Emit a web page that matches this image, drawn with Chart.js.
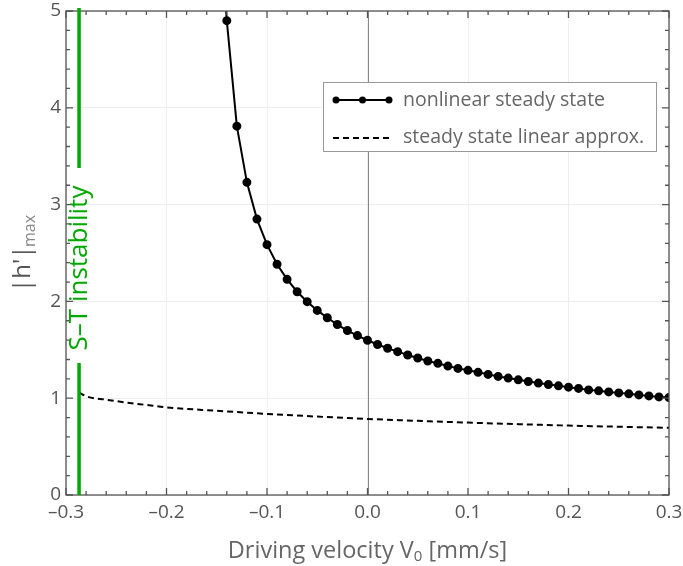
<!DOCTYPE html>
<html>
<head>
<meta charset="utf-8">
<script src="https://cdn.jsdelivr.net/npm/chart.js@4.4.1/dist/chart.umd.min.js"></script>
<style>
  html, body { margin: 0; padding: 0; background: #fff; }
  #wrap { width: 683px; height: 566px; }
</style>
</head>
<body>
<div id="wrap"><canvas id="c" width="683" height="566"></canvas></div>
<script>
// nonlinear steady state (first point lies above the plot range)
const nonlinV = [-0.15, -0.14, -0.13, -0.12, -0.11, -0.10, -0.09, -0.08, -0.07, -0.06, -0.05,
  -0.04, -0.03, -0.02, -0.01, 0.00, 0.01, 0.02, 0.03, 0.04, 0.05, 0.06, 0.07, 0.08, 0.09,
  0.10, 0.11, 0.12, 0.13, 0.14, 0.15, 0.16, 0.17, 0.18, 0.19, 0.20, 0.21, 0.22, 0.23, 0.24,
  0.25, 0.26, 0.27, 0.28, 0.29, 0.30];
const nonlinH = [6.4, 4.90, 3.81, 3.23, 2.85, 2.586, 2.384, 2.228, 2.10, 1.997, 1.907,
  1.831, 1.761, 1.699, 1.647, 1.599, 1.555, 1.516, 1.481, 1.446, 1.415, 1.384, 1.360, 1.332, 1.308,
  1.288, 1.267, 1.246, 1.225, 1.208, 1.190, 1.173, 1.156, 1.142, 1.128, 1.114, 1.101, 1.086, 1.076, 1.065,
  1.055, 1.045, 1.034, 1.024, 1.013, 1.007];

// linear approximation
const linV = [-0.287, -0.28, -0.26, -0.24, -0.22, -0.20, -0.15, -0.10, -0.05, 0.00, 0.05, 0.10, 0.15, 0.20, 0.25, 0.30];
const linH = [1.06, 1.02, 0.985, 0.955, 0.93, 0.905, 0.87, 0.838, 0.81, 0.786, 0.766, 0.748, 0.732, 0.717, 0.705, 0.694];

// S-T instability threshold
const stV = -0.287;

const xTicks = [-0.3, -0.2, -0.1, 0.0, 0.1, 0.2, 0.3];
const yTicks = [0, 1, 2, 3, 4, 5];

const seriesNames = ["nonlinear steady state", "steady state linear approx."];

const FONT = "'Open Sans', 'Noto Sans', sans-serif";
const GREEN = "#00a800";

function fmtX(v) {
  const s = (Math.round(v * 10) / 10).toFixed(1);
  return v < -1e-9 ? "\u2013" + s.slice(1) : (s === "-0.0" ? "0.0" : s);
}

// frame, ticks, gridline at 0, threshold line, legend, titles
const decor = {
  id: "decor",
  beforeDatasetsDraw(chart) {
    const { ctx, chartArea: a, scales: { x } } = chart;
    ctx.save();
    ctx.strokeStyle = "#888";
    ctx.lineWidth = 1;
    const x0 = Math.round(x.getPixelForValue(0)) + 0.5;
    ctx.beginPath(); ctx.moveTo(x0, a.top); ctx.lineTo(x0, a.bottom); ctx.stroke();
    ctx.restore();
  },
  afterDatasetsDraw(chart) {
    const { ctx, chartArea: a, scales: { x, y } } = chart;
    ctx.save();
    // frame
    ctx.strokeStyle = "#555";
    ctx.lineWidth = 1.3;
    ctx.strokeRect(a.left, a.top, a.right - a.left, a.bottom - a.top);
    // x ticks (bottom and top)
    for (let i = 0; i <= 30; i++) {
      const px = x.getPixelForValue(-0.3 + i * 0.02);
      const len = i % 5 === 0 ? 7 : 4;
      ctx.beginPath();
      ctx.moveTo(px, a.bottom); ctx.lineTo(px, a.bottom - len);
      ctx.moveTo(px, a.top); ctx.lineTo(px, a.top + len);
      ctx.stroke();
    }
    // y ticks (left and right)
    for (let i = 0; i <= 25; i++) {
      const py = y.getPixelForValue(i * 0.2);
      const len = i % 5 === 0 ? 7 : 4;
      ctx.beginPath();
      ctx.moveTo(a.left, py); ctx.lineTo(a.left + len, py);
      ctx.moveTo(a.right, py); ctx.lineTo(a.right - len, py);
      ctx.stroke();
    }
    // S-T instability line with label
    const gx = x.getPixelForValue(stV);
    ctx.strokeStyle = GREEN;
    ctx.lineWidth = 3.5;
    ctx.beginPath();
    ctx.moveTo(gx, a.top - 3); ctx.lineTo(gx, 168);
    ctx.moveTo(gx, 363); ctx.lineTo(gx, a.bottom);
    ctx.stroke();
    ctx.save();
    ctx.translate(gx + 1, 268);
    ctx.rotate(-Math.PI / 2);
    ctx.fillStyle = GREEN;
    ctx.font = "26px " + FONT;
    ctx.textAlign = "center";
    ctx.textBaseline = "middle";
    ctx.fillText("S\u2013T instability", 0, 0);
    ctx.restore();

    // legend
    const lx = 323, ly = 82, lw = 333, lh = 69;
    ctx.fillStyle = "#fff";
    ctx.fillRect(lx, ly, lw, lh);
    ctx.strokeStyle = "#999";
    ctx.lineWidth = 1;
    ctx.strokeRect(lx + 0.5, ly + 0.5, lw, lh);
    ctx.strokeStyle = "#000";
    ctx.lineWidth = 2;
    ctx.beginPath(); ctx.moveTo(336, 100); ctx.lineTo(389, 100); ctx.stroke();
    ctx.fillStyle = "#000";
    [336, 362.5, 389].forEach(px => {
      ctx.beginPath(); ctx.arc(px, 100, 3.5, 0, Math.PI * 2); ctx.fill();
    });
    ctx.setLineDash([6, 4]);
    ctx.beginPath(); ctx.moveTo(333, 138); ctx.lineTo(392, 138); ctx.stroke();
    ctx.setLineDash([]);
    ctx.fillStyle = "#666";
    ctx.font = "19.5px " + FONT;
    ctx.textAlign = "left";
    ctx.textBaseline = "middle";
    ctx.fillText(seriesNames[0], 403, 100);
    ctx.fillText(seriesNames[1], 403, 137);

    // x title
    ctx.fillStyle = "#666";
    ctx.textBaseline = "alphabetic";
    const t1 = "Driving velocity V", t2 = "0", t3 = " [mm/s]";
    ctx.font = "23.5px " + FONT;
    const w1 = ctx.measureText(t1).width, w3 = ctx.measureText(t3).width;
    ctx.font = "15px " + FONT;
    const w2 = ctx.measureText(t2).width;
    const sx = (a.left + a.right) / 2 - (w1 + w2 + w3) / 2;
    ctx.font = "23.5px " + FONT;
    ctx.fillText(t1, sx, 558);
    ctx.font = "15px " + FONT;
    ctx.fillText(t2, sx + w1, 561);
    ctx.font = "23.5px " + FONT;
    ctx.fillText(t3, sx + w1 + w2, 558);

    // y title: |h'| with subscript max
    ctx.save();
    ctx.translate(0, 0);
    ctx.rotate(-Math.PI / 2);
    ctx.textAlign = "left";
    ctx.fillStyle = "#555";
    ctx.font = "24px " + FONT;
    // rotated frame: x' = -y, y' = x
    ctx.fillText("|h'|", -292, 30);
    ctx.font = "16px " + FONT;
    ctx.fillStyle = "#888";
    ctx.fillText("max", -247, 35);
    ctx.restore();

    ctx.restore();
  }
};

const ctx = document.getElementById("c").getContext("2d");
new Chart(ctx, {
  type: "line",
  data: {
    datasets: [
      {
        label: seriesNames[0],
        data: nonlinV.map((v, i) => ({ x: v, y: nonlinH[i] })),
        borderColor: "#000",
        backgroundColor: "#000",
        borderWidth: 2,
        pointRadius: nonlinH.map(h => (h > 5 ? 0 : 3.5)),
        pointHoverRadius: 0,
        tension: 0,
        fill: false
      },
      {
        label: seriesNames[1],
        data: linV.map((v, i) => ({ x: v, y: linH[i] })),
        borderColor: "#000",
        borderWidth: 2,
        borderDash: [6, 4],
        pointRadius: 0,
        cubicInterpolationMode: "monotone",
        fill: false
      }
    ]
  },
  options: {
    responsive: false,
    animation: false,
    events: [],
    layout: { padding: { left: 0, top: 11, right: 14, bottom: 0 } },
    plugins: { legend: { display: false }, tooltip: { enabled: false } },
    scales: {
      x: {
        type: "linear",
        min: -0.3,
        max: 0.3,
        afterBuildTicks: s => { s.ticks = xTicks.map(v => ({ value: v })); },
        afterFit: s => { s.height = 71; s.paddingLeft = 0; s.paddingRight = 0; },
        grid: { color: "#eee", lineWidth: 1, drawTicks: false },
        border: { display: false },
        ticks: {
          padding: 6,
          color: "#555",
          font: { family: FONT, size: 19 },
          maxRotation: 0,
          callback: v => fmtX(v)
        }
      },
      y: {
        min: 0,
        max: 5,
        afterBuildTicks: s => { s.ticks = yTicks.map(v => ({ value: v })); },
        afterFit: s => { s.width = 66; s.paddingTop = 0; s.paddingBottom = 0; },
        grid: { color: "#eee", lineWidth: 1, drawTicks: false },
        border: { display: false },
        ticks: {
          padding: 5,
          color: "#555",
          font: { family: FONT, size: 19 },
          callback: v => String(v)
        }
      }
    }
  },
  plugins: [decor]
});
</script>
</body>
</html>
